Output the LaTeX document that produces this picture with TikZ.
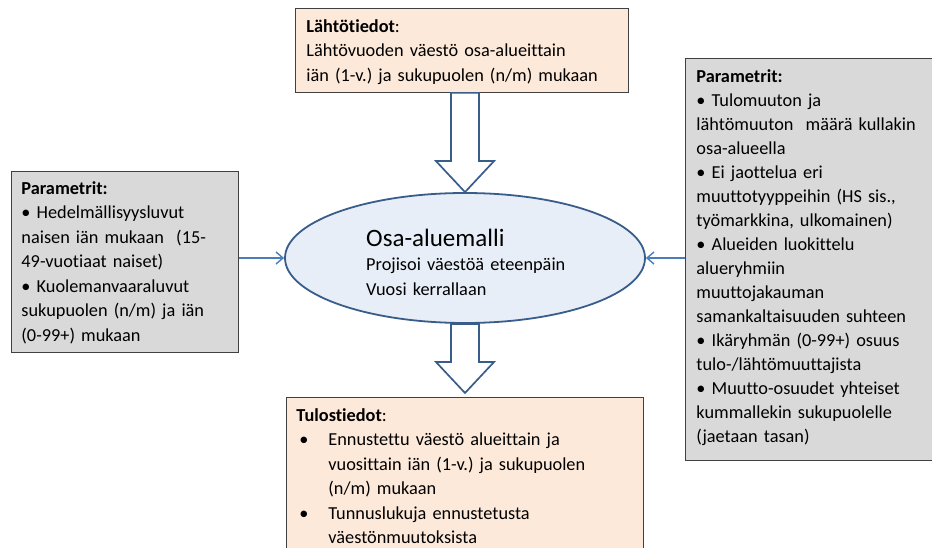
\documentclass[tikz,border=0pt]{standalone}
\usepackage{fontspec}
\setmainfont{Carlito}[Ligatures=TeX, RawFeature={-liga;-clig;-calt;-dlig}]
\usetikzlibrary{calc,arrows.meta,shapes.geometric}
\definecolor{peach}{HTML}{FDE9D9}
\definecolor{paramgray}{HTML}{D9D9D9}
\definecolor{modelfill}{HTML}{E8EEF7}
\definecolor{modelline}{HTML}{385D8A}
\definecolor{arrowblue}{HTML}{4A7EBB}
\definecolor{boxline}{HTML}{404040}
\frenchspacing

\begin{document}
\begin{tikzpicture}[
        %We set the units to pixels and define some styles
        x=1pt, y=-1pt,
        every node/.style={color=black, font=\fontsize{18.3}{24.5}\selectfont},
        text box/.style={draw=boxline, line width=0.9pt, rectangle, anchor=north west, inner ysep=0pt, align=left},
        data box/.style={text box, fill=peach},
        param box/.style={text box, fill=paramgray},
        model/.style={ellipse, draw=modelline, line width=1.8pt, fill=modelfill, minimum width=360pt, minimum height=130pt, inner sep=0pt},
        block arrow/.style={draw=modelline, line width=1.7pt, fill=white, line join=miter},
        param arrow/.style={draw=arrowblue, line width=1.4pt, -{Straight Barb[length=7pt,width=12pt]}}
     ]
    \useasboundingbox (0,0) rectangle (932,548);
    \clip (0,0) rectangle (932,548);

    % The data boxes
    \node[data box, inner xsep=11pt, text width=311pt, text height=24pt, text depth=60pt] (start) at (295,8)
        {\textbf{Lähtötiedot}:\\
         Lähtövuoden väestö osa-alueittain\\
         iän (1-v.) ja sukupuolen (n/m) mukaan};
    \node[data box, inner xsep=10pt, text width=337pt, text height=24pt, text depth=150pt] (output) at (286,397)
        {\textbf{Tulostiedot}:\\
         \hspace*{3pt}\makebox[29pt][l]{•}Ennustettu väestö alueittain ja\\
         \hspace*{32pt}vuosittain iän (1-v.) ja sukupuolen\\
         \hspace*{32pt}(n/m) mukaan\\
         \hspace*{3pt}\makebox[29pt][l]{•}Tunnuslukuja ennustetusta\\
         \hspace*{32pt}väestönmuutoksista};

    % The parameter boxes
    \node[param box, inner xsep=10pt, text width=207pt, text height=23pt, text depth=158pt] (leftpar) at (11,171)
        {\textbf{Parametrit:}\\
         • Hedelmällisyysluvut\\
         naisen iän mukaan~ (15-\\
         49-vuotiaat naiset)\\
         • Kuolemanvaaraluvut\\
         sukupuolen (n/m) ja iän\\
         (0-99+) mukaan};
    \node[param box, inner xsep=11pt, text width=243pt, text height=24pt, text depth=378pt,
          font=\fontsize{18.3}{24}\selectfont] (rightpar) at (685,58)
        {\textbf{Parametrit:}\\
         • Tulomuuton ja\\
         lähtömuuton~ määrä kullakin\\
         osa-alueella\\
         • Ei jaottelua eri\\
         muuttotyyppeihin (HS sis.,\\
         työmarkkina, ulkomainen)\\
         • Alueiden luokittelu\\
         alueryhmiin\\
         muuttojakauman\\
         samankaltaisuuden suhteen\\
         • Ikäryhmän (0-99+) osuus\\
         tulo-/lähtömuuttajista\\
         • Muutto-osuudet yhteiset\\
         kummallekin sukupuolelle\\
         (jaetaan tasan)};

    % The model
    \node[model] (model) at (465,258) {};
    \node[anchor=north west, inner sep=0pt, text width=230pt, text height=20pt, align=left] (modeltext)
        at ($(model.center)+(-99,-32)$)
        {{\fontsize{25}{24.5}\selectfont Osa-aluemalli}\\
         Projisoi väestöä eteenpäin\\
         Vuosi kerrallaan};

    % Block arrows in and out of the model
    \draw[block arrow] ($(start.south -| model.north)+(-14,0)$) -- ($(model.north)+(-14,-31)$) -- ++(-15,0)
        -- (model.north) -- ($(model.north)+(29,-31)$) -- ++(-15,0) -- ($(start.south -| model.north)+(14,0)$) -- cycle;
    \draw[block arrow] ($(model.south)+(-14,0)$) -- ($(output.north -| model.south)+(-14,-35)$) -- ++(-15,0)
        -- ($(output.north -| model.south)+(0,-4)$) -- ($(output.north -| model.south)+(29,-35)$) -- ++(-15,0)
        -- ($(model.south)+(14,0)$) -- cycle;

    % The parameters are fed in
    \draw[param arrow] (leftpar.east |- model.west) -- (model.west);
    \draw[param arrow] (rightpar.west |- model.east) -- (model.east);
\end{tikzpicture}
\end{document}
